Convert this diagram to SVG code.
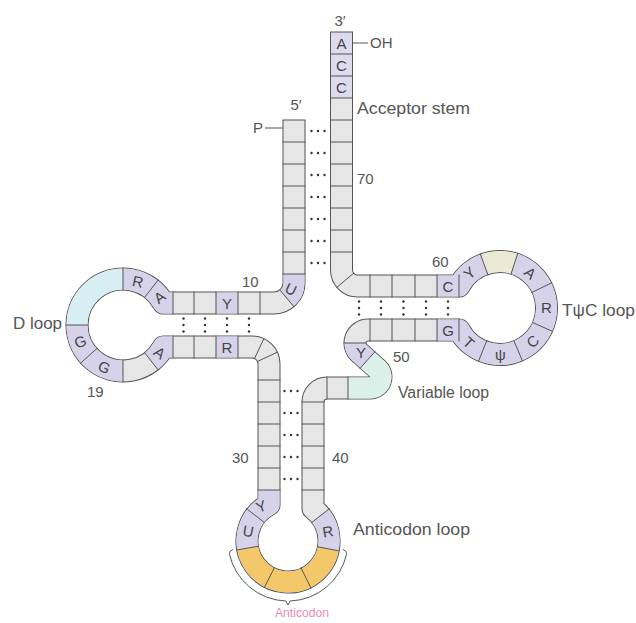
<svg xmlns="http://www.w3.org/2000/svg" xmlns:xlink="http://www.w3.org/1999/xlink" width="636" height="623" viewBox="0 0 636 623">
<style>
.tube{fill:none;stroke-linejoin:round;stroke-linecap:butt}
.seg{fill:none;stroke-width:21;stroke-linejoin:round;stroke-linecap:butt}
.pu{stroke:#d6d2ea}
.pl{stroke:#dedbee}
.bl{stroke:#d7eef3}
.cy{stroke:#dcf0ea}
.or{stroke:#f4c86a}
.ye{stroke:#e9e9d6}
.sep{fill:none;stroke:#555;stroke-width:1}
.b{font-family:'Liberation Sans',Arial,sans-serif;font-size:15px;fill:#444;text-anchor:middle;dominant-baseline:central}
.lb{font-family:'Liberation Sans',Arial,sans-serif;font-size:16px;fill:#555}
.n{font-family:'Liberation Sans',Arial,sans-serif;font-size:15px;fill:#555}
.dot{fill:#333}
</style>
<defs>
<path id="bb" d="M294 120 L294 283 A20 20 0 0 1 274 303 L163.4 303 A46 46 0 1 0 163.4 347 L252 347 A17 17 0 0 1 269 364 L269 504.67 A41 41 0 1 0 313 508.5 L313 402 A14 14 0 0 1 327 388 L370 388 A11 11 0 0 0 377.36 368.83 L359.3 352.66 A13 13 0 0 1 368 330 L459.03 330 A46.5 46.5 0 1 0 459.03 286 L357.5 286 A16 16 0 0 1 341.5 270 L341.5 32"/>
<g id="dh"><circle class="dot" cx="-6.5" cy="0" r="1.2"/><circle class="dot" cx="0" cy="0" r="1.2"/><circle class="dot" cx="6.5" cy="0" r="1.2"/></g>
<g id="dv"><circle class="dot" cx="0" cy="-6.5" r="1.2"/><circle class="dot" cx="0" cy="0" r="1.2"/><circle class="dot" cx="0" cy="6.5" r="1.2"/></g>
</defs>
<rect width="636" height="623" fill="#fff"/>

<g id="backbone">
<use href="#bb" xlink:href="#bb" class="tube" stroke="#555" stroke-width="23"/>
<use href="#bb" xlink:href="#bb" class="tube" stroke="#e6e6e6" stroke-width="21"/>
</g>

<g id="colored-bases">
<path class="seg pl" d="M341.5 98 L341.5 32"/>
<path class="seg pu" d="M294 274 L294 283 A20 20 0 0 1 286.86 298.32"/>
<path class="seg pu" d="M238 303 L216 303"/>
<path class="seg pu" d="M173 303 L163.4 303 A46 46 0 0 0 151.32 288.75"/>
<path class="seg pu" d="M151.32 288.75 A46 46 0 0 0 123 279"/>
<path class="seg bl" d="M123 279 A46 46 0 0 0 77 325"/>
<path class="seg pu" d="M77 325 A46 46 0 0 0 123 371"/>
<path class="seg pu" d="M151.32 361.25 A46 46 0 0 0 163.4 347 L173 347"/>
<path class="seg pu" d="M216 347 L238 347"/>
<path class="seg pu" d="M269 490 L269 504.67 A41 41 0 0 0 255.69 515.76"/>
<path class="seg pu" d="M255.69 515.76 A41 41 0 0 0 247.62 548.12"/>
<path class="seg or" d="M247.62 548.12 A41 41 0 0 0 328.25 548.82"/>
<path class="seg pu" d="M328.25 548.82 A41 41 0 0 0 320.31 515.76"/>
<path class="seg cy" d="M348 388 L370 388 A11 11 0 0 0 377.36 368.83 L367.5 360"/>
<path class="seg pu" d="M367.5 360 L359.3 352.66 A13 13 0 0 1 355 343"/>
<path class="seg pu" d="M437 330 L459.03 330 A46.5 46.5 0 1 0 514.37 263.78"/>
<path class="seg ye" d="M514.37 263.78 A46.5 46.5 0 0 0 484.1 264.3"/>
<path class="seg pu" d="M484.1 264.3 A46.5 46.5 0 0 0 459.03 286 L437 286"/>
</g>

<g id="separators">
<path class="sep" d="M282.5 120H305.5 M282.5 142H305.5 M282.5 164H305.5 M282.5 186H305.5 M282.5 208H305.5 M282.5 230H305.5 M282.5 252H305.5 M282.5 274H305.5
M279.46 289.51L294.25 307.13
M260 291.5V314.5 M238 291.5V314.5 M216 291.5V314.5 M194 291.5V314.5 M173 291.5V314.5
M144.24 297.81L158.4 279.69 M123 290.5V267.5 M88.5 325H65.5 M97.36 348.08L80.27 363.47 M123 359.5V382.5 M144.24 352.19L158.4 370.31
M173 335.5V358.5 M194 335.5V358.5 M216 335.5V358.5 M238 335.5V358.5
M254.32 359.02L264.04 338.17 M256.98 361.68L277.83 351.96
M257.5 380H280.5 M257.5 402H280.5 M257.5 424H280.5 M257.5 446H280.5 M257.5 468H280.5 M257.5 490H280.5
M264.75 522.84L246.63 508.68 M258.95 546.12L236.3 550.11 M274.61 567.28L264.16 587.78 M300.93 567.51L311.01 588.19 M316.96 546.63L339.53 551.02 M311.25 522.84L329.37 508.68
M301.5 490H324.5 M301.5 468H324.5 M301.5 446H324.5 M301.5 424H324.5 M301.5 402H324.5
M327 376.5V399.5 M348 376.5V399.5 M359.83 368.57L375.17 351.43 M343.5 343H366.5
M370 318.5V341.5 M392 318.5V341.5 M415 318.5V341.5 M437 318.5V341.5 M459 318.5V341.5
M486.89 340.45L478.27 361.78 M513.67 340.22L522.66 361.39 M531.97 322.23L552.98 331.59 M531.46 292.66L552.13 282.57 M510.82 274.71L517.92 252.84 M488.03 275.11L480.16 253.5
M459 274.5V297.5 M437 274.5V297.5 M415 274.5V297.5 M392 274.5V297.5 M370 274.5V297.5
M354.05 272.89L336.43 287.68
M330 252H353 M330 230H353 M330 208H353 M330 186H353 M330 164H353 M330 142H353 M330 120H353 M330 98H353 M330 76H353 M330 54H353 M330 32H353"/>
</g>

<g id="base-pairs">
<use href="#dh" xlink:href="#dh" x="318" y="131"/><use href="#dh" xlink:href="#dh" x="318" y="153"/><use href="#dh" xlink:href="#dh" x="318" y="175"/><use href="#dh" xlink:href="#dh" x="318" y="197"/><use href="#dh" xlink:href="#dh" x="318" y="219"/><use href="#dh" xlink:href="#dh" x="318" y="241"/><use href="#dh" xlink:href="#dh" x="318" y="263"/>
<use href="#dh" xlink:href="#dh" x="291" y="391"/><use href="#dh" xlink:href="#dh" x="291" y="413"/><use href="#dh" xlink:href="#dh" x="291" y="435"/><use href="#dh" xlink:href="#dh" x="291" y="457"/><use href="#dh" xlink:href="#dh" x="291" y="479"/>
<use href="#dv" xlink:href="#dv" x="183.5" y="325"/><use href="#dv" xlink:href="#dv" x="205" y="325"/><use href="#dv" xlink:href="#dv" x="227" y="325"/><use href="#dv" xlink:href="#dv" x="249" y="325"/>
<use href="#dv" xlink:href="#dv" x="359" y="308"/><use href="#dv" xlink:href="#dv" x="381" y="308"/><use href="#dv" xlink:href="#dv" x="403.5" y="308"/><use href="#dv" xlink:href="#dv" x="426" y="308"/><use href="#dv" xlink:href="#dv" x="448" y="308"/>
</g>

<g id="base-letters">
<text class="b" x="341.5" y="43">A</text>
<text class="b" x="341.5" y="65">C</text>
<text class="b" x="341.5" y="87">C</text>
<text class="b" transform="translate(291 289) rotate(25)">U</text>
<text class="b" x="227" y="303">Y</text>
<text class="b" x="227" y="347">R</text>
<text class="b" transform="translate(159.5 297) rotate(-37)">A</text>
<text class="b" transform="translate(138 281.5) rotate(12)">R</text>
<text class="b" transform="translate(80.1 341.5) rotate(-21)">G</text>
<text class="b" transform="translate(104.3 367) rotate(24)">G</text>
<text class="b" transform="translate(159.7 352.7) rotate(37)">A</text>
<text class="b" transform="translate(261 506) rotate(-20)">Y</text>
<text class="b" transform="translate(248.2 531) rotate(10)">U</text>
<text class="b" transform="translate(327.9 531.4) rotate(-10)">R</text>
<text class="b" x="361" y="352">Y</text>
<text class="b" x="448" y="330">G</text>
<text class="b" x="448" y="286">C</text>
<text class="b" transform="translate(468.9 342.6) rotate(42)">T</text>
<text class="b" x="500.4" y="354.5">ψ</text>
<text class="b" transform="translate(532.6 341.2) rotate(-44)">C</text>
<text class="b" x="546.5" y="307.2">R</text>
<text class="b" transform="translate(530.5 272.9) rotate(41)">A</text>
<text class="b" transform="translate(469.5 272.9) rotate(-41)">Y</text>
</g>

<g id="labels">
<text class="n" x="340" y="26" text-anchor="middle">3′</text>
<path class="sep" d="M353 43H368"/>
<text class="n" x="370" y="48">OH</text>
<text class="n" x="296" y="110" text-anchor="middle">5′</text>
<text class="n" x="258" y="133" text-anchor="middle">P</text>
<path class="sep" d="M265 128H283"/>
<text class="lb" x="357" y="114" textLength="113" lengthAdjust="spacingAndGlyphs">Acceptor stem</text>
<text class="n" x="357" y="184">70</text>
<text class="n" x="432" y="267">60</text>
<text class="n" x="242" y="287">10</text>
<text class="lb" x="13" y="329" textLength="49" lengthAdjust="spacingAndGlyphs">D loop</text>
<text class="n" x="87" y="397">19</text>
<text class="lb" x="562" y="316" textLength="73" lengthAdjust="spacingAndGlyphs">TψC loop</text>
<text class="n" x="393" y="362">50</text>
<text class="lb" x="398" y="398" textLength="91" lengthAdjust="spacingAndGlyphs">Variable loop</text>
<text class="n" x="232" y="463">30</text>
<text class="n" x="332" y="463">40</text>
<text class="lb" x="353" y="535" textLength="117" lengthAdjust="spacingAndGlyphs">Anticodon loop</text>
<path class="sep" d="M233 549.5 Q229 551 229.3 553.5 A60 60 0 0 0 285.9 601 L288 605 L290.1 601 A60 60 0 0 0 346.7 553.5 Q347 551 343 549.5"/>
<text x="275" y="617" textLength="54" lengthAdjust="spacingAndGlyphs" style="font-family:'Liberation Sans',Arial,sans-serif;font-size:13px;fill:#e98ab6">Anticodon</text>
</g>
</svg>
